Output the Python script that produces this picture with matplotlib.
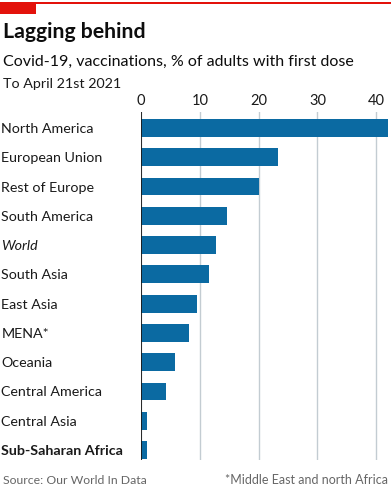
import matplotlib.pyplot as plt
from matplotlib.patches import Rectangle

# data
regions = ['North America', 'European Union', 'Rest of Europe', 'South America', 'World',
           'South Asia', 'East Asia', 'MENA*', 'Oceania', 'Central America', 'Central Asia',
           'Sub-Saharan Africa']
first_dose = [42.0, 23.3, 20.0, 14.6, 12.7, 11.5, 9.5, 8.2, 5.8, 4.2, 1.0, 1.0]
x_ticks = [0, 10, 20, 30, 40]

plt.rcParams['font.family'] = ['Lato', 'DejaVu Sans']

fig = plt.figure(figsize=(3.91, 5.0), dpi=100)
ax = fig.add_axes([141 / 391, 0.08, 1 - 141 / 391, 0.696])

ypos = list(range(len(regions)))
ax.barh(ypos, first_dose, height=0.61, color='#0b6aa2', zorder=3)
ax.set_xlim(0, 42.5)
ax.set_ylim(11.34, -0.546)

ax.set_xticks(x_ticks)
ax.xaxis.tick_top()
ax.tick_params(axis='x', length=0, labelsize=10.5, pad=3, colors='#1a1a1a')
ax.grid(axis='x', color='#c3ccd2', linewidth=1, zorder=0)
ax.axvline(0, color='#1a1a1a', linewidth=1.3, zorder=4)

# category labels, left aligned at the figure edge
ax.set_yticks(ypos)
ax.set_yticklabels(regions)
ax.tick_params(axis='y', length=0, labelsize=10.3, pad=100.5, colors='#1a1a1a')
for lab in ax.get_yticklabels():
    lab.set_horizontalalignment('left')
    if lab.get_text() == 'World':
        lab.set_fontstyle('italic')
    if lab.get_text() == 'Sub-Saharan Africa':
        lab.set_fontweight('bold')

for s in ax.spines.values():
    s.set_visible(False)

# header decoration
fig.add_artist(Rectangle((0, 1 - 4 / 500), 1, 1.5 / 500, transform=fig.transFigure,
                         color='#e3120b', lw=0))
fig.add_artist(Rectangle((0, 1 - 14 / 500), 36 / 391, 11 / 500, transform=fig.transFigure,
                         color='#e3120b', lw=0))

fig.text(3 / 391, 1 - 32 / 500, 'Lagging behind', fontsize=15.3, fontweight='bold',
         color='#0d0d0d', va='center')
fig.text(3 / 391, 1 - 62 / 500, 'Covid-19, vaccinations, % of adults with first dose',
         fontsize=11.5, color='#0d0d0d', va='center')
fig.text(3 / 391, 1 - 84 / 500, 'To April 21st 2021', fontsize=10.3, color='#1a1a1a',
         va='center')

fig.text(3 / 391, 1 - 480 / 500, 'Source: Our World In Data', fontsize=8.8,
         color='#666666', va='center')
fig.text(388 / 391, 1 - 480 / 500, '*Middle East and north Africa', fontsize=9,
         color='#666666', va='center', ha='right')

plt.savefig('out.png', dpi=100)
